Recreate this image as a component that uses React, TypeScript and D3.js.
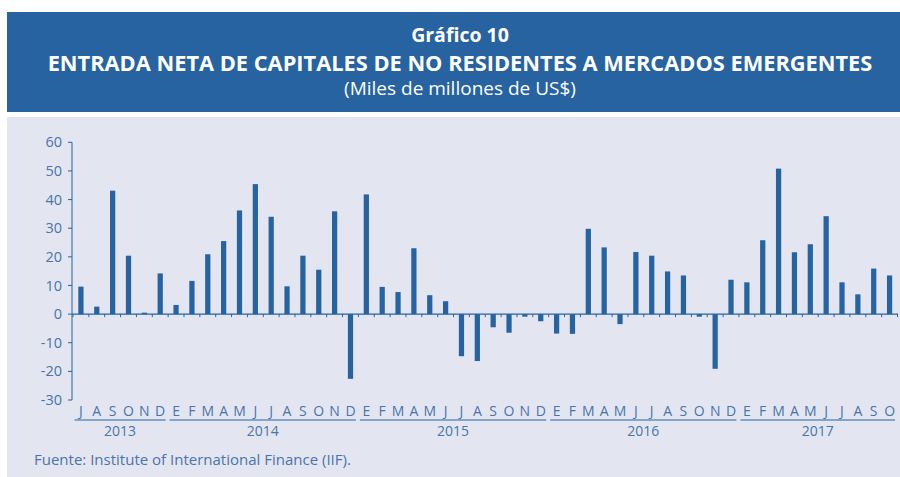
import * as d3 from "d3";

// monthly flows, Jul-2013 .. Oct-2017 (bn US$)
const months = [
  "J", "A", "S", "O", "N", "D",
  "E", "F", "M", "A", "M", "J", "J", "A", "S", "O", "N", "D",
  "E", "F", "M", "A", "M", "J", "J", "A", "S", "O", "N", "D",
  "E", "F", "M", "A", "M", "J", "J", "A", "S", "O", "N", "D",
  "E", "F", "M", "A", "M", "J", "J", "A", "S", "O",
];
const values = [
  9.6, 2.6, 43.1, 20.4, 0.5, 14.2,
  3.2, 11.6, 20.9, 25.5, 36.2, 45.4, 34.0, 9.7, 20.4, 15.5, 35.9, -22.6,
  41.8, 9.5, 7.7, 23.0, 6.6, 4.5, -14.7, -16.4, -4.6, -6.5, -0.9, -2.5,
  -6.8, -6.9, 29.8, 23.3, -3.5, 21.7, 20.4, 14.9, 13.5, -0.9, -19.1, 12.0,
  11.1, 25.8, 50.8, 21.6, 24.4, 34.2, 11.1, 6.9, 15.9, 13.5,
];
const years = [
  { label: "2013", from: 0, to: 5 },
  { label: "2014", from: 6, to: 17 },
  { label: "2015", from: 18, to: 29 },
  { label: "2016", from: 30, to: 41 },
  { label: "2017", from: 42, to: 51 },
];
const yTicks = [60, 50, 40, 30, 20, 10, 0, -10, -20, -30];

const W = 900;
const H = 477;
const blue = "#2663a0";
const textBlue = "#4a74aa";
const font = "'Open Sans', 'Noto Sans', sans-serif";

export default function App() {
  const idx = months.map((_, i) => i);
  const x = d3.scaleBand<number>().domain(idx).range([73, 897.5]).paddingInner(0.67).paddingOuter(0.335);
  const y = d3.scaleLinear().domain([-30, 60]).range([400, 142.3]);
  const step = x.step();
  const left = (i: number) => x(i)! - (step - x.bandwidth()) / 2;
  const y0 = y(0);
  const axisX = 72;

  return (
    <svg width={W} height={H} style={{ position: "absolute", left: 0, top: 0 }} fontFamily={font}>
      <rect x={0} y={0} width={W} height={H} fill="#fff" />
      <rect x={7} y={12} width={W - 7} height={100} fill={blue} />
      <text x={460} y={42} textAnchor="middle" fill="#fff" fontWeight="bold" fontSize={19.5}>Gráfico 10</text>
      <text x={460} y={71} textAnchor="middle" fill="#fff" fontWeight="bold" fontSize={21.8}>
        ENTRADA NETA DE CAPITALES DE NO RESIDENTES A MERCADOS EMERGENTES
      </text>
      <text x={460} y={95} textAnchor="middle" fill="#fff" fontSize={19}>(Miles de millones de US$)</text>

      <rect x={7} y={117} width={W - 7} height={H - 117} fill="#e3e6f1" />

      {/* bars */}
      {values.map((v, i) => (
        <rect key={i} x={x(i)} width={x.bandwidth()} y={Math.min(y(v), y0)} height={Math.abs(y(v) - y0)} fill={blue} />
      ))}

      {/* y axis */}
      <line x1={axisX} x2={axisX} y1={y(60)} y2={y(-30)} stroke={blue} strokeWidth={1} />
      {yTicks.map((t) => (
        <g key={t}>
          <line x1={axisX - 4} x2={axisX} y1={y(t)} y2={y(t)} stroke={blue} />
          <text x={62} y={y(t)} dy="0.35em" textAnchor="end" fill={textBlue} fontSize={14.5}>{t}</text>
        </g>
      ))}

      {/* zero line with month ticks */}
      <line x1={axisX} x2={898} y1={y0} y2={y0} stroke={blue} strokeWidth={1.2} />
      {d3.range(months.length + 1).map((i) => (
        <line key={i} x1={left(0) + i * step} x2={left(0) + i * step} y1={y0} y2={y0 + 3} stroke={blue} />
      ))}

      {/* month labels */}
      {months.map((m, i) => (
        <text key={i} x={x(i)! + x.bandwidth() / 2} y={416} textAnchor="middle" fill={textBlue} fontSize={14}>{m}</text>
      ))}

      {/* year brackets */}
      {years.map((yr) => {
        const a = left(yr.from) + 1.5;
        const b = left(yr.to) + step - 2.5;
        return (
          <g key={yr.label}>
            <line x1={a} x2={b} y1={420} y2={420} stroke={blue} strokeWidth={1.2} />
            <text x={(a + b) / 2} y={436} textAnchor="middle" fill={textBlue} fontSize={14}>{yr.label}</text>
          </g>
        );
      })}

      <text x={34} y={465} fill={textBlue} fontSize={15}>Fuente: Institute of International Finance (IIF).</text>
    </svg>
  );
}
